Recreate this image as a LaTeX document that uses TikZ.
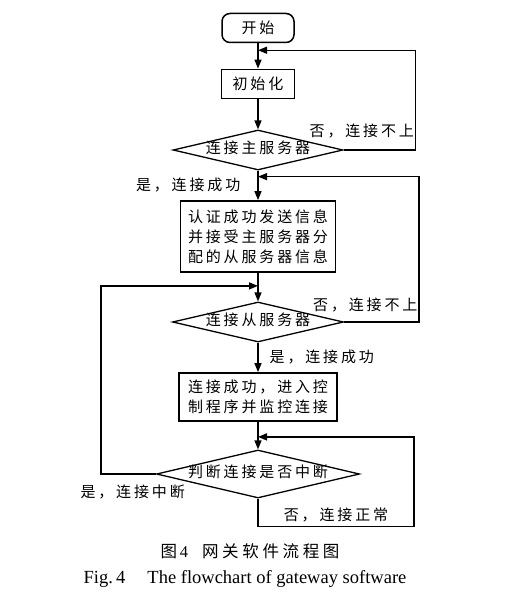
\documentclass[tikz,border=0pt]{standalone}
\usepackage{fontspec}
\setmainfont{Liberation Serif}
\newfontfamily\cjk[LetterSpace=19]{Noto Sans CJK SC}
\newfontfamily\cjkcap[LetterSpace=22]{Noto Sans CJK SC}
\usetikzlibrary{shapes.geometric, arrows.meta, calc}

\begin{document}
\begin{tikzpicture}[x=1pt, y=-1pt,
		every node/.style={font=\cjk\fontsize{15}{20}\selectfont},
		term/.style={rectangle, rounded corners=8pt, draw=black, line width=1.5pt, minimum width=72pt, minimum height=29pt},
		proc/.style={rectangle, draw=black, line width=1.8pt, align=center, inner sep=3pt},
		test/.style={diamond, draw=black, line width=1.3pt, inner sep=0pt, text height=8pt, text depth=1pt, aspect=4.2},
		lbl/.style={inner sep=1pt},
		arrow/.style={-{Triangle[length=9pt,width=7pt]}, line width=1.4pt}
		]
		\useasboundingbox (0,0) rectangle (529,596);

		\node[term] (start) at (258,28) {开始};
		\node[proc, minimum width=73pt, minimum height=29pt] (init) at (258,84) {初始化};
		\node[test, minimum width=170pt, minimum height=40pt] (d1) at (258,150) {连接主服务器};
		\node[proc, minimum width=155pt, minimum height=71pt] (auth) at (258,236.5) {认证成功发送信息\\并接受主服务器分\\配的从服务器信息};
		\node[test, minimum width=171pt, minimum height=40pt] (d2) at (258,322) {连接从服务器};
		\node[proc, minimum width=158pt, minimum height=48pt] (ctrl) at (258,397) {连接成功，进入控\\制程序并监控连接};
		\node[test, minimum width=203pt, minimum height=48pt] (d3) at (258,474) {判断连接是否中断};

		\coordinate (j1) at ($(start.south)+(0,7)$);
		\coordinate (j2) at ($(d1.south)+(0,6)$);
		\coordinate (j3) at ($(auth.south)+(0,13)$);
		\coordinate (j4) at ($(ctrl.south)+(0,15)$);

		\draw[arrow] (start) -- (init);
		\draw[arrow] (init) -- (d1);
		\draw[arrow] (d1) -- node[lbl, left=16pt]{是，连接成功} (auth);
		\draw[arrow] (auth) -- (d2);
		\draw[arrow] (d2) -- node[lbl, right=10pt]{是，连接成功} (ctrl);
		\draw[arrow] (ctrl) -- (d3);

		% back loops
		\draw[arrow] (d1.east) -- ++(72,0) node[lbl, anchor=south east, yshift=10pt]{否，连接不上} |- (j1);
		\draw[arrow] (d2.east) -- ++(75,0) node[lbl, anchor=south east, yshift=8pt]{否，连接不上} |- (j2);
		\draw[arrow] (d3.west) -- ++(-55,0) node[lbl, anchor=north west, xshift=-22pt, yshift=-9pt]{是，连接中断} |- (j3);
		\draw[arrow] (d3.south) -- ++(0,28) -- node[lbl, above=3pt]{否，连接正常} ++(156,0) |- (j4);

		% caption
		\node (capcn) at (250,551) {\cjkcap\fontsize{16.5}{16}\selectfont 图{\rmfamily\,4}\hspace{14pt}网关软件流程图};
		\node[font=\rmfamily\fontsize{18.5}{18}\selectfont] (capen) at (245,579) {Fig.\,4\hspace{1.2em}The flowchart of gateway software};
\end{tikzpicture}
\end{document}
